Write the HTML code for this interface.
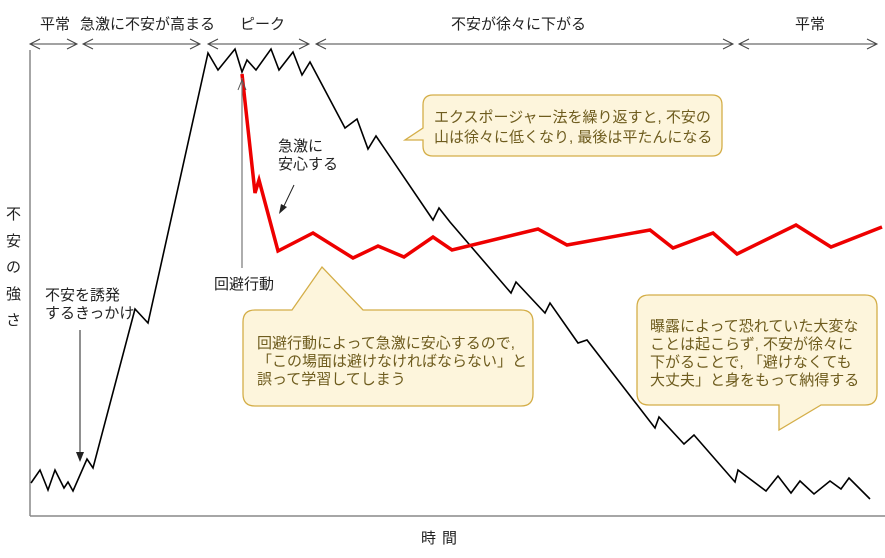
<!DOCTYPE html>
<html><head><meta charset="utf-8"><style>
html,body{margin:0;padding:0;background:#fff;}
svg{display:block;font-family:"Liberation Sans","Noto Sans CJK JP",sans-serif;}
</style></head><body>
<svg width="885" height="558" viewBox="0 0 885 558" xmlns="http://www.w3.org/2000/svg">
<line x1="30" y1="50" x2="30" y2="516" stroke="#888" stroke-width="1.5"/>
<line x1="30" y1="516" x2="885" y2="516" stroke="#888" stroke-width="1.5"/>
<g stroke="#444" stroke-width="1" fill="none">
<line x1="30" y1="44" x2="77" y2="44"/><polyline points="40,39 30,44 40,49"/><polyline points="67,39 77,44 67,49"/>
<line x1="83" y1="44" x2="200" y2="44"/><polyline points="93,39 83,44 93,49"/><polyline points="190,39 200,44 190,49"/>
<line x1="208" y1="44" x2="309" y2="44"/><polyline points="218,39 208,44 218,49"/><polyline points="299,39 309,44 299,49"/>
<line x1="316" y1="44" x2="733" y2="44"/><polyline points="326,39 316,44 326,49"/><polyline points="723,39 733,44 723,49"/>
<line x1="739" y1="44" x2="877" y2="44"/><polyline points="749,39 739,44 749,49"/><polyline points="867,39 877,44 867,49"/>
</g>
<g font-size="15" fill="#222">
<text x="40" y="29">平常</text>
<text x="80" y="29">急激に不安が高まる</text>
<text x="240" y="29">ピーク</text>
<text x="451" y="29">不安が徐々に下がる</text>
<text x="795" y="29">平常</text>
</g>
<g font-size="15" fill="#222">
<text x="6" y="219">不</text><text x="6" y="246">安</text><text x="6" y="272">の</text><text x="6" y="299">強</text><text x="6" y="325">さ</text>
</g>
<text x="421" y="543" font-size="15" fill="#222" letter-spacing="6">時間</text>
<polyline fill="none" stroke="#000" stroke-width="1.6" points="31,483 40,470 48,490 55,470 64,488 68,482 73,491 87,459 93,468 135,309 148,323 208,53 218,70 235,49 242,72 247,60 256,70 271,49 279,70 293,52 302,75 310,62 345,128 357,119 368,149 376,136 433,220 439,208 450,222 511,293 516,282 545,313 550,303 578,343 587,340 655,428 659,417 684,444 694,435 735,482 738,470 766,491 778,476 791,493 800,481 814,494 830,481 841,489 849,478 870,499"/>
<polyline fill="none" stroke="#ee0000" stroke-width="3.5" points="242,74 255,193 259,180 278,251 313,233 353,258 378,246 404,257 433,237 452,250 538,229 567,245 650,230 673,248 713,233 737,254 796,225 831,247 882,227"/>
<line x1="242" y1="78" x2="242" y2="268" stroke="#777" stroke-width="1.2"/>
<polyline points="238,90 242,80 246,90" fill="none" stroke="#555" stroke-width="1"/>
<text x="214" y="289" font-size="15" fill="#222">回避行動</text>
<text x="278" y="151" font-size="15" fill="#222">急激に</text>
<text x="278" y="169" font-size="15" fill="#222">安心する</text>
<line x1="294" y1="185" x2="283" y2="208" stroke="#222" stroke-width="1"/>
<polygon points="279,214 281,204 287,207" fill="#222"/>
<text x="45" y="300" font-size="15" fill="#222">不安を誘発</text>
<text x="45" y="318" font-size="15" fill="#222">するきっかけ</text>
<line x1="80" y1="330" x2="80" y2="455" stroke="#222" stroke-width="1"/>
<polygon points="76,452 84,452 80,462" fill="#222"/>
<g fill="#fdf5dc" stroke="#d4ae48" stroke-width="1.3">
<path d="M433,95 H712 Q722,95 722,105 V146 Q722,156 712,156 H433 Q423,156 423,146 V140 L405,140 L423,128 V105 Q423,95 433,95 Z"/>
<path d="M255,310 H292 L322,267 L363,310 H521 Q533,310 533,322 V394 Q533,406 521,406 H255 Q243,406 243,394 V322 Q243,310 255,310 Z"/>
<path d="M649,295 H865 Q877,295 877,307 V393 Q877,405 865,405 H821 L779,430 L779,405 H649 Q637,405 637,393 V307 Q637,295 649,295 Z"/>
</g>
<g font-size="15" fill="#6e5c1e">
<text x="434" y="122">エクスポージャー法を繰り返すと, 不安の</text>
<text x="434" y="142">山は徐々に低くなり, 最後は平たんになる</text>
<text x="257" y="348">回避行動によって急激に安心するので,</text>
<text x="257" y="366">「この場面は避けなければならない」と</text>
<text x="257" y="384">誤って学習してしまう</text>
<text x="650" y="331">曝露によって恐れていた大変な</text>
<text x="650" y="349">ことは起こらず, 不安が徐々に</text>
<text x="650" y="367">下がることで, 「避けなくても</text>
<text x="650" y="385">大丈夫」と身をもって納得する</text>
</g>
</svg>
</body></html>
